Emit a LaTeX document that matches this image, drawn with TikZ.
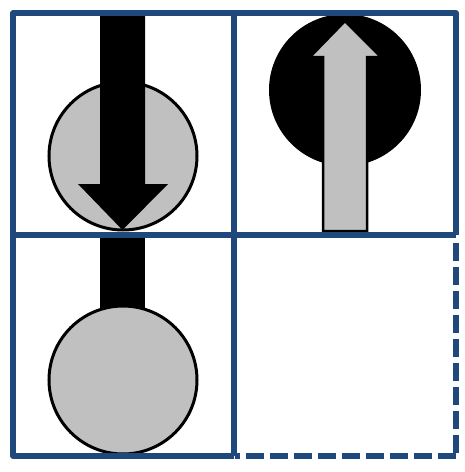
\documentclass[tikz,border=0pt]{standalone}
\begin{document}
\begin{tikzpicture}[x=1pt,y=-1pt,
  frame/.style={draw=frameblue,line width=5.5pt},
  dashframe/.style={frame,line cap=butt,dash pattern=on 18pt off 6pt},
  ball/.style={draw=black,line width=3pt,fill=ballgray}]
\definecolor{frameblue}{HTML}{1F497D}
\definecolor{ballgray}{HTML}{C0C0C0}
\useasboundingbox (0,0) rectangle (465,472);
% top-left: gray ball with black arrow down
\draw[ball] (123,156) circle[radius=74];
\fill[black] (100,14) -- (145,14) -- (145,184) -- (168,184) -- (122.5,230) -- (78,184) -- (100,184) -- cycle;
% top-right: black ball with gray arrow up
\fill[black] (345,90) circle[radius=76];
\draw[fill=ballgray,line width=2.5pt,line join=miter] (323,231) -- (367,231) -- (367,57) -- (381,57) -- (345,21) -- (310,57) -- (323,57) -- cycle;
% bottom-left: black bar and gray ball
\fill[black] (100,236) rectangle (145,312);
\draw[ball] (123,380) circle[radius=74];
% frame
\draw[frame,line join=round] (234,456) -- (13,456) -- (13,13) -- (456,13) -- (456,235);
\draw[frame] (13,235) -- (456,235);
\draw[frame] (234,13) -- (234,456);
\draw[dashframe,dash phase=18pt] (456,237) -- (456,456);
\draw[dashframe] (456,456) -- (235,456);
\end{tikzpicture}
\end{document}
